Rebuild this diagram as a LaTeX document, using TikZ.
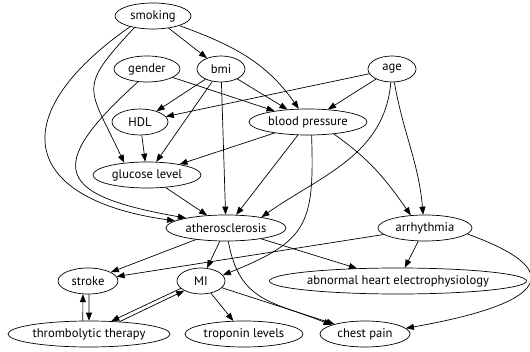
\documentclass[tikz,border=0pt]{standalone}
\usepackage{fontspec}
\setmainfont{PT Sans}
\usetikzlibrary{shapes.geometric,arrows.meta}

\begin{document}
\begin{tikzpicture}[x=1pt,y=1pt,>={Triangle[length=8pt,width=6pt]},line width=0.7pt,
	var/.style={ellipse, draw, inner sep=0pt, minimum height=26pt, font=\fontsize{12.6}{14}\selectfont}]
	\useasboundingbox (0,0) rectangle (530,351);
	%\draw[help lines] (0,0) grid[step=53] (530,351);
	% variables, row by row
	\node[var, minimum width=76pt] (smoking) at (153,335) {smoking};
	\node[var, minimum width=66pt] (gender) at (147,282) {gender};
	\node[var, minimum width=48pt] (bmi) at (221,282) {bmi};
	\node[var, minimum width=48pt] (age) at (392,282) {age};
	\node[var, minimum width=56pt] (hdl) at (140,229) {HDL};
	\node[var, minimum width=118pt] (bp) at (308,229) {blood pressure};
	\node[var, minimum width=108pt] (glucose) at (147,176) {glucose level};
	\node[var, minimum width=120pt] (athero) at (226,123) {atherosclerosis};
	\node[var, minimum width=94pt] (arrhythmia) at (425,123) {arrhythmia};
	\node[var, minimum width=60pt] (stroke) at (88,70) {stroke};
	\node[var, minimum width=48pt] (mi) at (201,70) {MI};
	\node[var, minimum width=250pt] (abnormal) at (398,70) {abnormal heart electrophysiology};
	\node[var, minimum width=162pt] (thrombo) at (89,17) {thrombolytic therapy};
	\node[var, minimum width=118pt] (troponin) at (244,17) {troponin levels};
	\node[var, minimum width=90pt] (chest) at (365,17) {chest pain};
	% straight edges
	\draw[->] (smoking) -- (bmi);
	\draw[->] (gender) -- (bp);
	\draw[->] (bmi) -- (hdl);
	\draw[->] (bmi) -- (glucose);
	\draw[->] (bmi) -- (athero);
	\draw[->] (bmi) -- (bp);
	\draw[->] (age) -- (hdl);
	\draw[->] (age) -- (bp);
	\draw[->] (hdl) -- (glucose);
	\draw[->] (bp) -- (glucose);
	\draw[->] (bp) -- (athero);
	\draw[->] (glucose) -- (athero);
	\draw[->] (athero) -- (stroke);
	\draw[->] (athero) -- (mi);
	\draw[->] (athero) -- (abnormal);
	\draw[->] (arrhythmia) -- (stroke);
	\draw[->] (arrhythmia) -- (abnormal);
	\draw[->] (mi) -- (troponin);
	\draw[->] (mi) -- (chest);
	% curved edges
	\draw[->] (smoking.-20) to[out=-20,in=125] (bp.125);
	\draw[->] (smoking.-148) to[out=-133,in=115,looseness=1.6] (glucose.152);
	\draw[->] (smoking.-155) to[out=-145,in=172,looseness=2] (athero.172);
	\draw[->] (gender.-125) to[out=-138,in=170,looseness=2.3] (athero.166);
	\draw[->] (age.-95) to[out=-95,in=35] (athero.17);
	\draw[->] (age.-80) to[out=-80,in=95] (arrhythmia.98);
	\draw[->] (bp.-25) to[out=-35,in=125] (arrhythmia.138);
	\draw[->] (bp.-75) to[out=-88,in=22,looseness=1.4] (mi.15);
	\draw[->] (athero.-80) to[out=-80,in=158,looseness=1.2] (chest.165);
	\draw[->] (arrhythmia.-8) to[out=-20,in=10,looseness=2.8] (chest.8);
	% feedback pairs
	\draw[->] (stroke.-86) -- (thrombo.90);
	\draw[->] (thrombo.115) -- (stroke.-111);
	\draw[->] (mi.200) -- (thrombo.30);
	\draw[->] (thrombo.22) -- (mi.210);
\end{tikzpicture}
\end{document}
